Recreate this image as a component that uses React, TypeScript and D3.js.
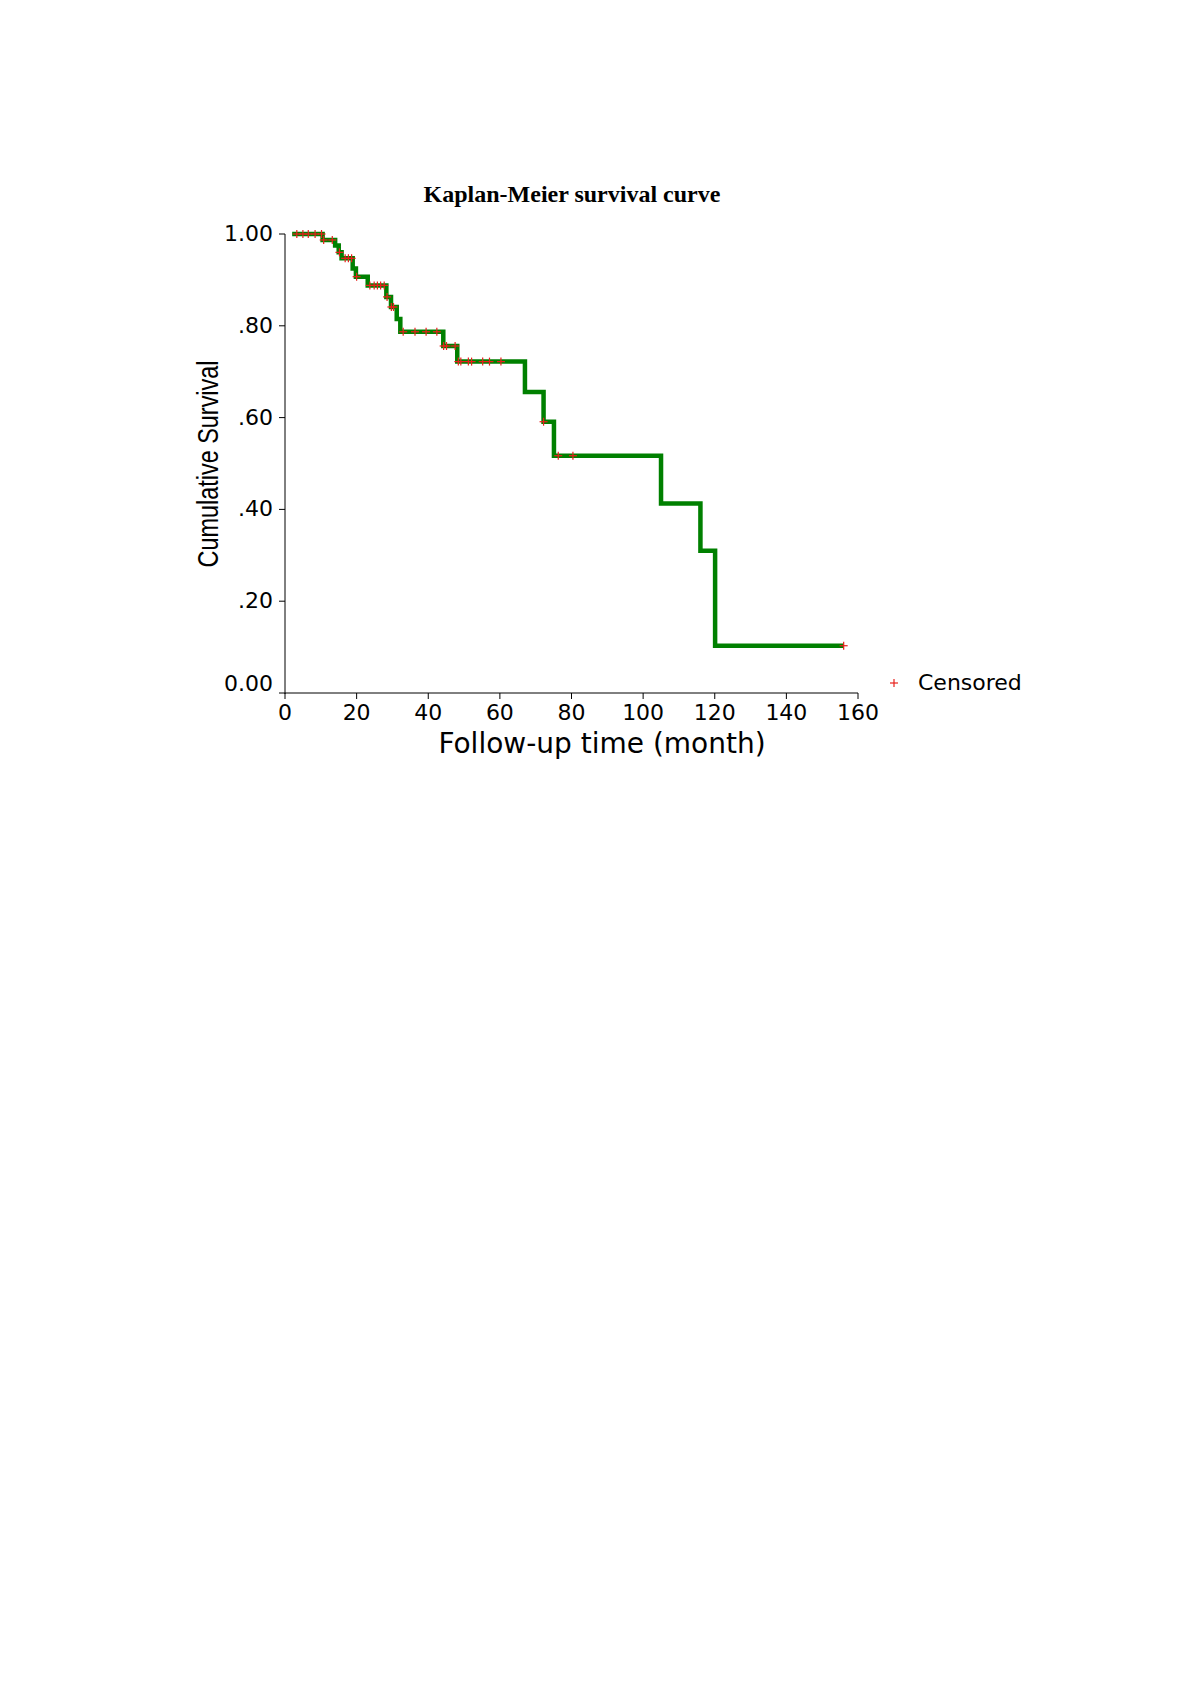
import React from "react";
import * as d3 from "d3";

// Kaplan-Meier step curve (time in months, cumulative survival)
const stepTimes = [2, 10.5, 14, 15, 15.8, 18.9, 19.8, 23.1, 28.3, 29.6, 31.2, 32.2, 44.2, 48.1, 67, 72.2, 75.1, 105, 116, 120.1, 156];
const stepSurvival = [1.0, 0.987, 0.975, 0.96, 0.947, 0.925, 0.907, 0.888, 0.863, 0.841, 0.815, 0.787, 0.756, 0.722, 0.656, 0.591, 0.517, 0.413, 0.31, 0.103, 0.103];

// censored observations
const censorTimes = [3.3, 5.0, 6.5, 8.4, 10.2, 10.8, 13.2, 15.2, 16.8, 17.7, 18.6, 20.0, 23.7, 24.9, 25.8, 26.7, 27.7, 28.5, 29.7, 30.3, 33.0, 36.3, 39.4, 42.4, 44.3, 45.1, 47.5, 48.4, 49.1, 51.2, 52.1, 55.2, 57.1, 60.3, 72.2, 76.3, 80.4, 156];
const censorSurvival = [1, 1, 1, 1, 1, 0.987, 0.987, 0.96, 0.947, 0.947, 0.947, 0.907, 0.888, 0.888, 0.888, 0.888, 0.888, 0.863, 0.841, 0.841, 0.787, 0.787, 0.787, 0.787, 0.756, 0.756, 0.756, 0.722, 0.722, 0.722, 0.722, 0.722, 0.722, 0.722, 0.591, 0.517, 0.517, 0.103];

const xTicks = [0, 20, 40, 60, 80, 100, 120, 140, 160];
const yTicks = [0, 0.2, 0.4, 0.6, 0.8, 1.0];
const yTickLabels = ["0.00", ".20", ".40", ".60", ".80", "1.00"];

const App = () => {
  const width = 1200;
  const height = 1697;
  const x = d3.scaleLinear().domain([0, 160]).range([285, 858]);
  const y = d3.scaleLinear().domain([0, 1]).range([693, 234]);

  const pts: [number, number][] = stepTimes.map((t, i) => [t, stepSurvival[i]]);
  const line = d3
    .line<[number, number]>()
    .x((d) => x(d[0]))
    .y((d) => y(d[1]))
    .curve(d3.curveStepAfter);

  const tickFont = "'DejaVu Sans', Verdana, sans-serif";
  const red = "#e8201c";
  const green = "#008000";

  return (
    <svg
      width={width}
      height={height}
      style={{ position: "absolute", left: 0, top: 0, background: "#fff" }}
    >
      <text
        x={572}
        y={202}
        textAnchor="middle"
        fontFamily="'Liberation Serif', 'Times New Roman', serif"
        fontWeight="bold"
        fontSize={24}
      >
        Kaplan-Meier survival curve
      </text>

      {/* y axis */}
      <line x1={x(0)} x2={x(0)} y1={y(1)} y2={y(0) + 1} stroke="#000" strokeWidth={1} />
      {yTicks.map((v, i) => (
        <g key={"y" + v}>
          <line x1={x(0) - 6} x2={x(0)} y1={y(v)} y2={y(v)} stroke="#000" />
          <text
            x={x(0) - 12}
            y={y(v) + (v === 0 ? -2 : 7)}
            textAnchor="end"
            fontFamily={tickFont}
            fontSize={22}
          >
            {yTickLabels[i]}
          </text>
        </g>
      ))}

      {/* x axis */}
      <line x1={x(0)} x2={x(160)} y1={y(0)} y2={y(0)} stroke="#000" strokeWidth={1} />
      {xTicks.map((v) => (
        <g key={"x" + v}>
          <line x1={x(v)} x2={x(v)} y1={y(0)} y2={y(0) + 6} stroke="#000" />
          <text x={x(v)} y={720} textAnchor="middle" fontFamily={tickFont} fontSize={22}>
            {v}
          </text>
        </g>
      ))}

      <text x={602} y={753} textAnchor="middle" fontFamily={tickFont} fontSize={28}>
        Follow-up time (month)
      </text>

      <text
        transform="translate(218,464) rotate(-90)"
        textAnchor="middle"
        fontFamily="'Liberation Sans', Arial, sans-serif"
        fontSize={30}
        textLength={207}
        lengthAdjust="spacingAndGlyphs"
      >
        Cumulative Survival
      </text>

      {/* survival curve */}
      <path d={line(pts) || ""} fill="none" stroke={green} strokeWidth={4.5} />

      {/* censored marks */}
      {censorTimes.map((t, i) => {
        const cx = x(t);
        const cy = y(censorSurvival[i]);
        return (
          <g key={"c" + i} stroke={red} strokeWidth={1.2}>
            <line x1={cx - 4} x2={cx + 4} y1={cy} y2={cy} />
            <line x1={cx} x2={cx} y1={cy - 4} y2={cy + 4} />
          </g>
        );
      })}

      {/* legend */}
      <g stroke={red} strokeWidth={1.2}>
        <line x1={890} x2={898} y1={683} y2={683} />
        <line x1={894} x2={894} y1={679} y2={687} />
      </g>
      <text x={918} y={690} fontFamily={tickFont} fontSize={22}>
        Censored
      </text>
    </svg>
  );
};

export default App;
